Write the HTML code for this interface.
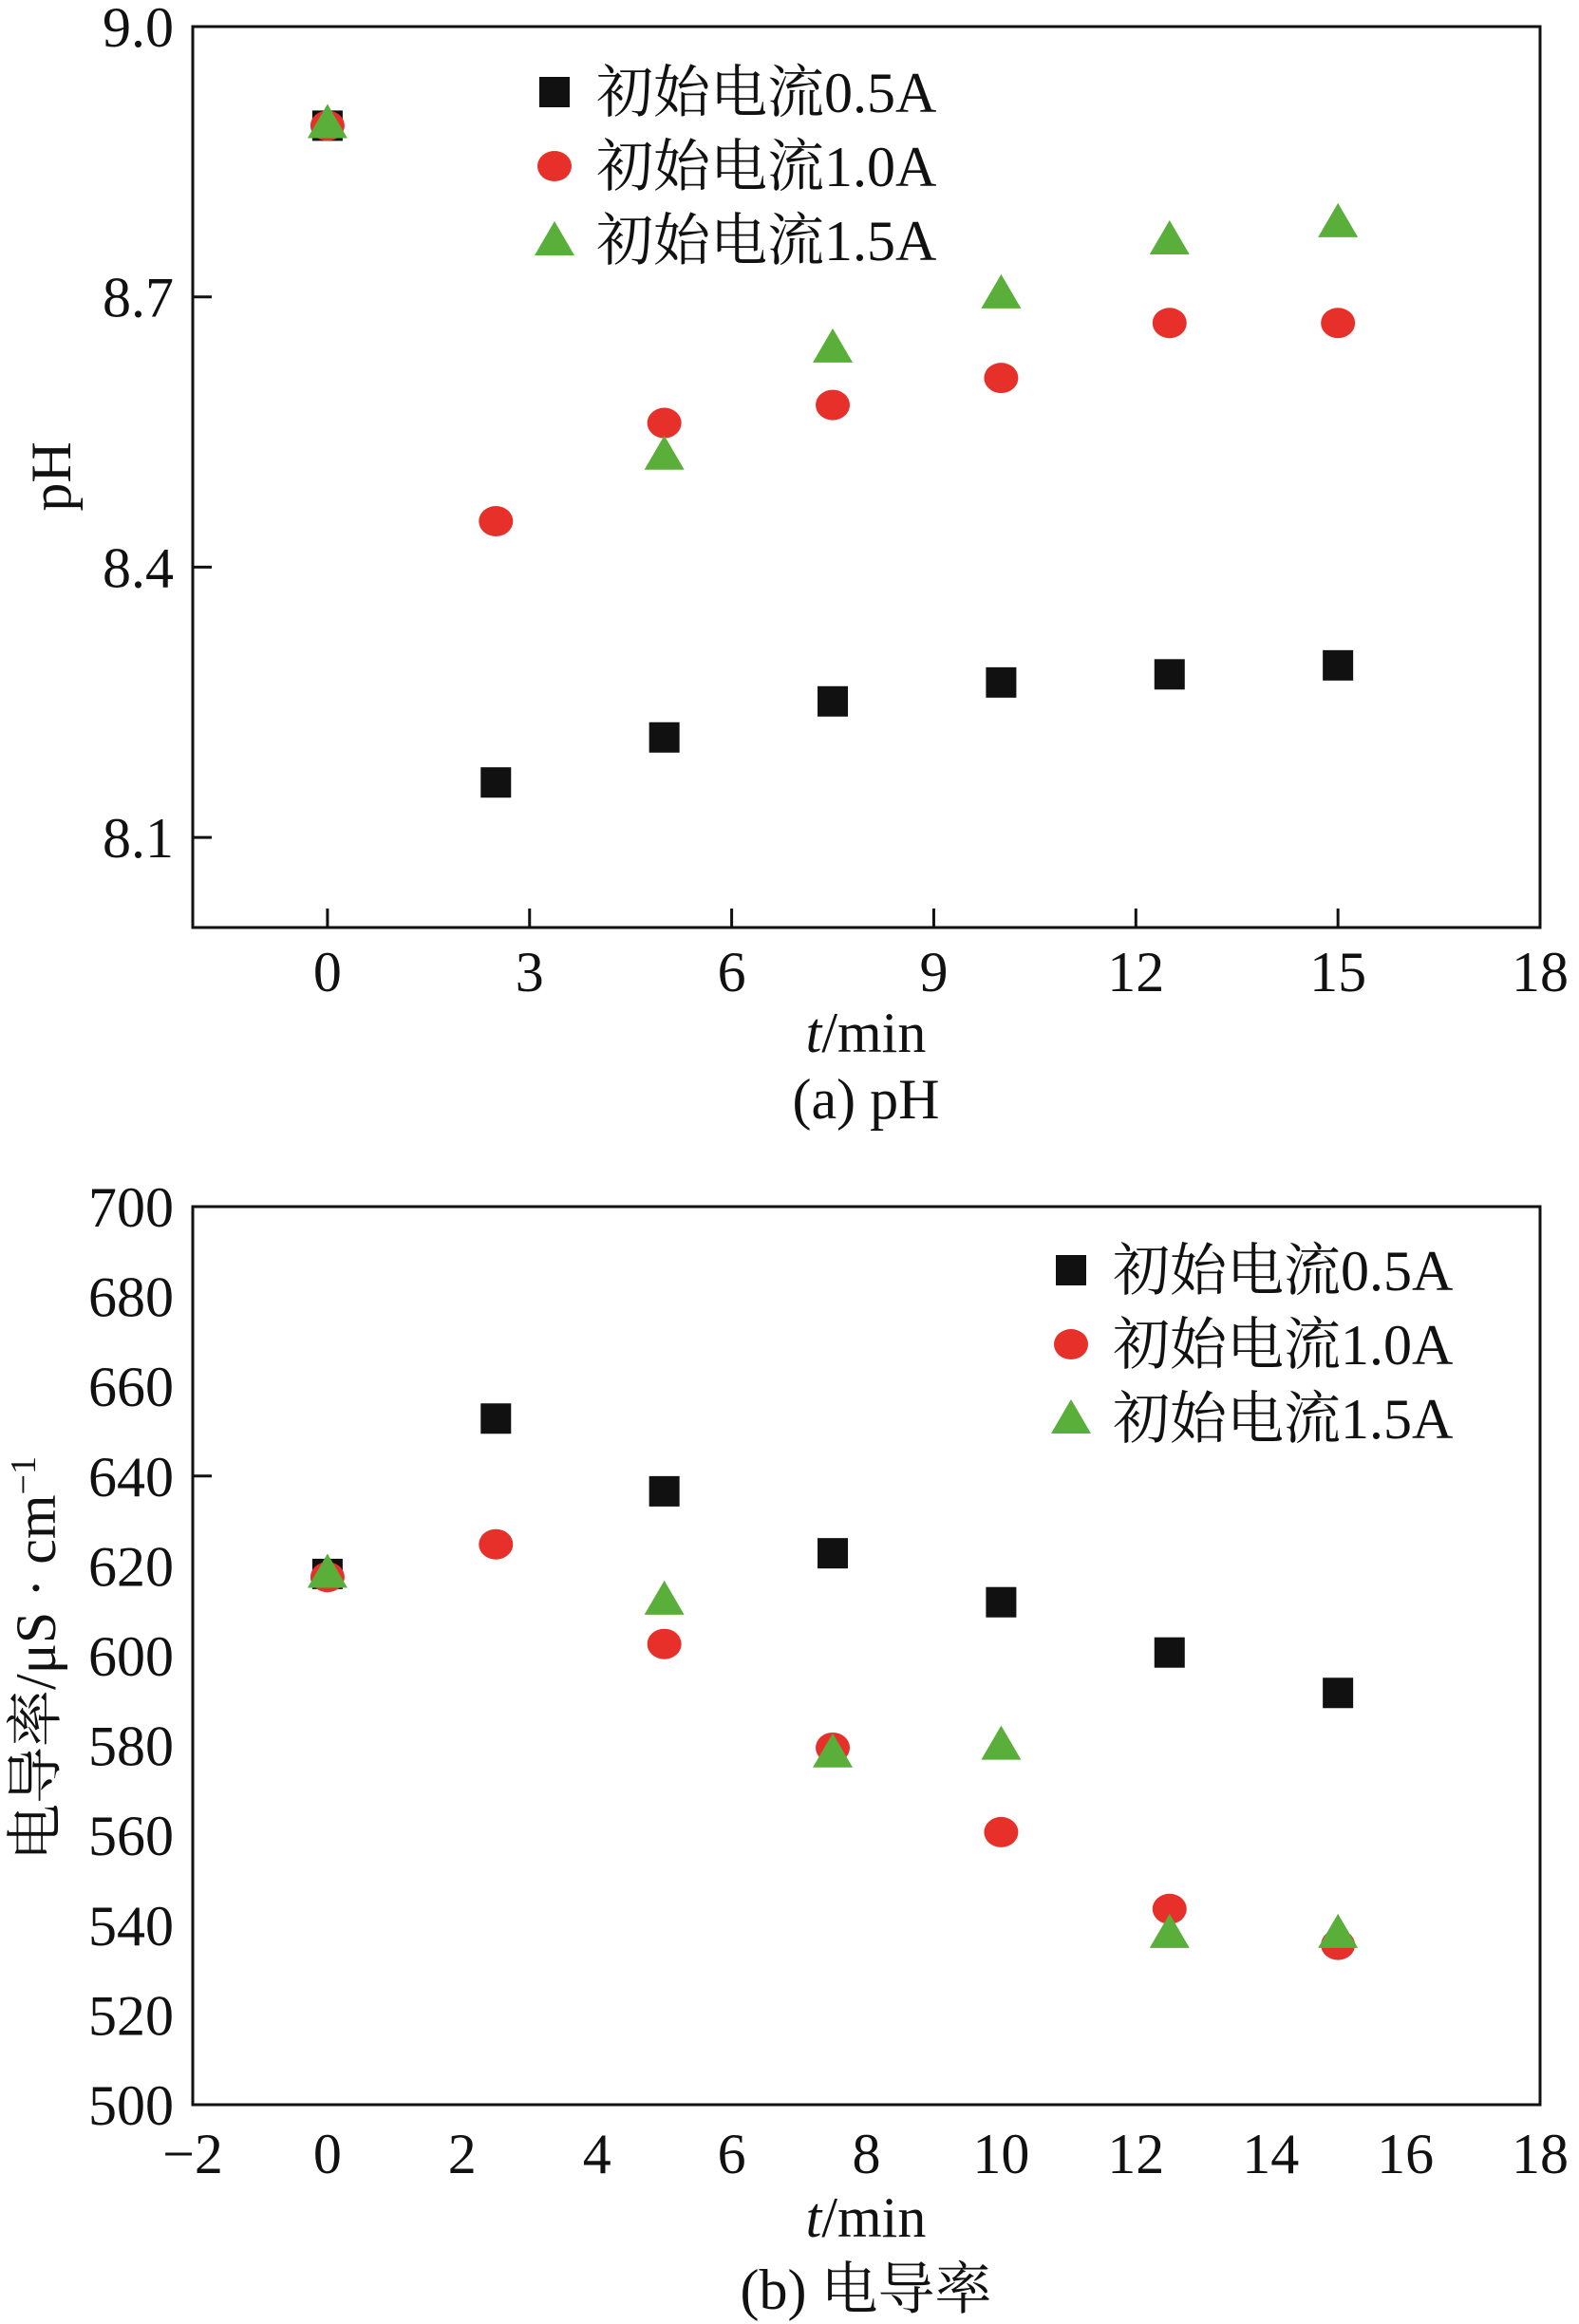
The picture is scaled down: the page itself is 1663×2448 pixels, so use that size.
<!DOCTYPE html>
<html><head><meta charset="utf-8"><style>
html,body{margin:0;padding:0;background:#fff;}
svg{display:block;}
text{font-family:"Liberation Serif","Noto Serif CJK SC",serif;fill:#111;}
</style></head><body>
<svg id="fig" width="1663" height="2448" viewBox="0 0 1663 2448" xmlns="http://www.w3.org/2000/svg"></svg>
<script>
const times = [0, 2.5, 5, 7.5, 10, 12.5, 15];
const seriesNames = ["初始电流0.5A", "初始电流1.0A", "初始电流1.5A"];
const phA05 = [8.89, 8.161, 8.211, 8.251, 8.272, 8.281, 8.291];
const phA10 = [8.89, 8.451, 8.560, 8.580, 8.610, 8.671, 8.671];
const phA15 = [8.893, null, 8.525, 8.644, 8.704, 8.764, 8.783];
const condA05 = [618.2, 652.8, 636.6, 622.8, 611.9, 600.7, 591.7];
const condA10 = [617.5, 624.8, 602.6, 579.5, 560.7, 543.6, 535.6];
const condA15 = [618.5, null, 612.5, 578.5, 580.2, 538.3, 538.3];
const phXTicks = [0, 3, 6, 9, 12, 15, 18];
const phYTicks = [8.1, 8.4, 8.7, 9.0];
const condXTicks = [-2, 0, 2, 4, 6, 8, 10, 12, 14, 16, 18];
const condYTicks = [500, 520, 540, 560, 580, 600, 620, 640, 660, 680, 700];

const NS = "http://www.w3.org/2000/svg";
const svg = document.getElementById("fig");
function el(tag, attrs, parent) {
  const e = document.createElementNS(NS, tag);
  for (const k in attrs) e.setAttribute(k, attrs[k]);
  (parent || svg).appendChild(e);
  return e;
}
const colors = ["#111111", "#e8302a", "#5aae3a"];
function marker(kind, cx, cy, g) {
  let m;
  if (kind === 0) m = el("rect", {x: cx - 16, y: cy - 16, width: 32, height: 32, fill: colors[0]}, g);
  else if (kind === 1) m = el("ellipse", {cx: cx, cy: cy, rx: 18, ry: 16, fill: colors[1]}, g);
  else m = el("polygon", {points: `${cx},${cy - 20} ${cx + 21},${cy + 16} ${cx - 21},${cy + 16}`, fill: colors[2]}, g);
  return m;
}
function fmt(v, d) { return v < 0 ? "\u2212" + Math.abs(v).toFixed(d) : v.toFixed(d); }

function chart(cfg) {
  const g = el("g", {});
  
  
  const L = 203, R = 1622, T = cfg.top, B = cfg.bottom;
  const xs = v => L + (v - (-2)) / 20 * (R - L);
  const ys = v => B - (v - cfg.ymin) / (cfg.ymax - cfg.ymin) * (B - T);
  const frame = el("rect", {x: L, y: T, width: R - L, height: B - T, fill: "none", stroke: "#111", "stroke-width": 3}, g);
  
  
  cfg.xTicks.forEach(t => {
    const tx = el("text", {x: xs(t), y: cfg.xLabelY, "font-size": 60, "text-anchor": "middle"}, g);
    tx.textContent = fmt(t, 0);
    
    
    if (cfg.xTickMarks.includes(t)) {
      const tl = el("line", {x1: xs(t), x2: xs(t), y1: B, y2: B - 20, stroke: "#111", "stroke-width": 3}, g);
      
      
    }
  });
  cfg.yTicks.forEach(t => {
    const ty = el("text", {x: 183, y: ys(t) + 21, "font-size": 60, "text-anchor": "end"}, g);
    ty.textContent = t.toFixed(cfg.yDec);
    
    
    if (cfg.yTickMarks.includes(t)) {
      const tl = el("line", {x1: L, x2: L + 20, y1: ys(t), y2: ys(t), stroke: "#111", "stroke-width": 3}, g);
      
      
    }
  });
  const xt = el("text", {x: 912, y: cfg.xTitleY, "font-size": 60, "text-anchor": "middle"}, g);
  xt.innerHTML = '<tspan font-style="italic">t</tspan>/min';
  
  
  const cap = el("text", {x: 912, y: cfg.capY, "font-size": 60, "text-anchor": "middle"}, g);
  cap.textContent = cfg.caption;
  
  
  const yt = el("text", {x: 0, y: 0, "font-size": 60, "text-anchor": "middle", transform: `translate(${cfg.yTitleX},${cfg.yTitleY}) rotate(-90)`}, g);
  yt.innerHTML = cfg.yTitle;
  
  
  cfg.series.forEach((vals, si) => {
    vals.forEach((v, i) => {
      if (v === null) return;
      const m = marker(si, xs(times[i]), ys(v), g);
      
      
    });
  });
  seriesNames.forEach((n, si) => {
    const cy = cfg.legY + si * 78;
    const m = marker(si, cfg.legX, cy, g);
    
    
    const lt = el("text", {x: cfg.legX + 44, y: cy + 21, "font-size": 60}, g);
    lt.textContent = n;
    
    
  });
}

chart({name: "ph-chart", top: 28, bottom: 977, ymin: 8.0, ymax: 9.0,
  xTicks: phXTicks, xTickMarks: [0, 3, 6, 9, 12, 15], yTicks: phYTicks, yTickMarks: [8.1, 8.4, 8.7], yDec: 1,
  xLabelY: 1044, xTitleY: 1108, capY: 1178, caption: "(a) pH",
  yTitle: "pH", yTitleX: 74, yTitleY: 502,
  series: [phA05, phA10, phA15], legX: 584, legY: 97});
chart({name: "conductivity-chart", top: 1271, bottom: 2217, ymin: 500, ymax: 700,
  xTicks: condXTicks, xTickMarks: [15], yTicks: condYTicks, yTickMarks: [640], yDec: 0,
  xLabelY: 2289, xTitleY: 2356, capY: 2432, caption: "(b) 电导率",
  yTitle: '电导率/μS · cm<tspan baseline-shift="super" font-size="38">−1</tspan>', yTitleX: 58, yTitleY: 1747,
  series: [condA05, condA10, condA15], legX: 1128, legY: 1338});
</script>
</body></html>
